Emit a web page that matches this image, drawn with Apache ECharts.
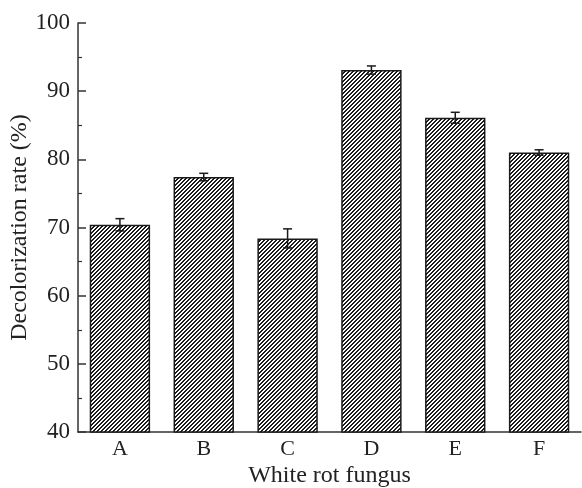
<!DOCTYPE html>
<html>
<head>
<meta charset="utf-8">
<script src="https://cdn.jsdelivr.net/npm/echarts@6/dist/echarts.min.js"></script>
<style>
html,body{margin:0;padding:0;background:#fff;}
#chart{width:582px;height:488px;}
</style>
</head>
<body>
<div id="chart"></div>
<script>
var categories = ['A', 'B', 'C', 'D', 'E', 'F'];
var values = [70.4, 77.4, 68.4, 93.1, 86.1, 81.0];
var errors = [0.9, 0.55, 1.4, 0.6, 0.8, 0.4];
var yTicks = [40, 50, 60, 70, 80, 90, 100];

var FONT = '"Liberation Serif", "Times New Roman", serif';

// hatch pattern tile: pixel staircase "/" stripes, period 4
var tile = document.createElement('canvas');
tile.width = 4; tile.height = 4;
var ctx = tile.getContext('2d');
ctx.fillStyle = '#fff';
ctx.fillRect(0, 0, 4, 4);
ctx.fillStyle = '#1c1c1c';
for (var r = 0; r < 4; r++) {
  var c0 = (3 - r + 4) % 4;
  var c1 = (4 - r) % 4;
  ctx.fillRect(c0, r, 1, 1);
  ctx.fillRect(c1, r, 1, 1);
}

var errData = categories.map(function (c, i) {
  return [i, values[i] - errors[i], values[i] + errors[i]];
});

var chart = echarts.init(document.getElementById('chart'));
chart.setOption({
  animation: false,
  backgroundColor: '#fff',
  grid: { left: 78, right: 1, top: 23, bottom: 56, containLabel: false, outerBoundsMode: 'none' },
  xAxis: {
    type: 'category',
    data: categories,
    boundaryGap: true,
    name: 'White rot fungus',
    nameLocation: 'middle',
    nameGap: 32,
    nameMoveOverlap: false,
    nameTextStyle: { fontFamily: FONT, fontSize: 24, color: '#222' },
    axisLine: { lineStyle: { color: '#333', width: 1.5 } },
    axisTick: { show: false },
    axisLabel: { fontFamily: FONT, fontSize: 22, color: '#222', margin: 6 }
  },
  yAxis: {
    type: 'value',
    min: yTicks[0],
    max: yTicks[yTicks.length - 1],
    interval: 10,
    name: 'Decolorization rate (%)',
    nameLocation: 'middle',
    nameGap: 46,
    nameMoveOverlap: false,
    nameTextStyle: { fontFamily: FONT, fontSize: 24, color: '#222' },
    axisLine: { show: true, lineStyle: { color: '#333', width: 1.5 } },
    axisTick: { show: true, inside: true, length: 8, lineStyle: { color: '#333', width: 1.5 } },
    minorTick: { show: true, splitNumber: 2, length: 4, lineStyle: { color: '#333', width: 1.2 } },
    splitLine: { show: false },
    axisLabel: { fontFamily: FONT, fontSize: 23, color: '#222', margin: 8 }
  },
  series: [
    {
      type: 'bar',
      data: values,
      barWidth: '72%',
      itemStyle: {
        color: { image: tile, repeat: 'repeat' },
        borderColor: '#1a1a1a',
        borderWidth: 1.5
      }
    },
    {
      type: 'custom',
      data: errData,
      z: 10,
      renderItem: function (params, api) {
        var x = api.value(0);
        var lo = api.coord([x, api.value(1)]);
        var hi = api.coord([x, api.value(2)]);
        var hw = 4.5;
        var style = { stroke: '#1a1a1a', lineWidth: 1.5 };
        return {
          type: 'group',
          children: [
            { type: 'line', shape: { x1: lo[0], y1: lo[1], x2: hi[0], y2: hi[1] }, style: style },
            { type: 'line', shape: { x1: hi[0] - hw, y1: hi[1], x2: hi[0] + hw, y2: hi[1] }, style: style },
            { type: 'line', shape: { x1: lo[0] - hw, y1: lo[1], x2: lo[0] + hw, y2: lo[1] }, style: style }
          ]
        };
      }
    }
  ]
});
</script>
</body>
</html>
